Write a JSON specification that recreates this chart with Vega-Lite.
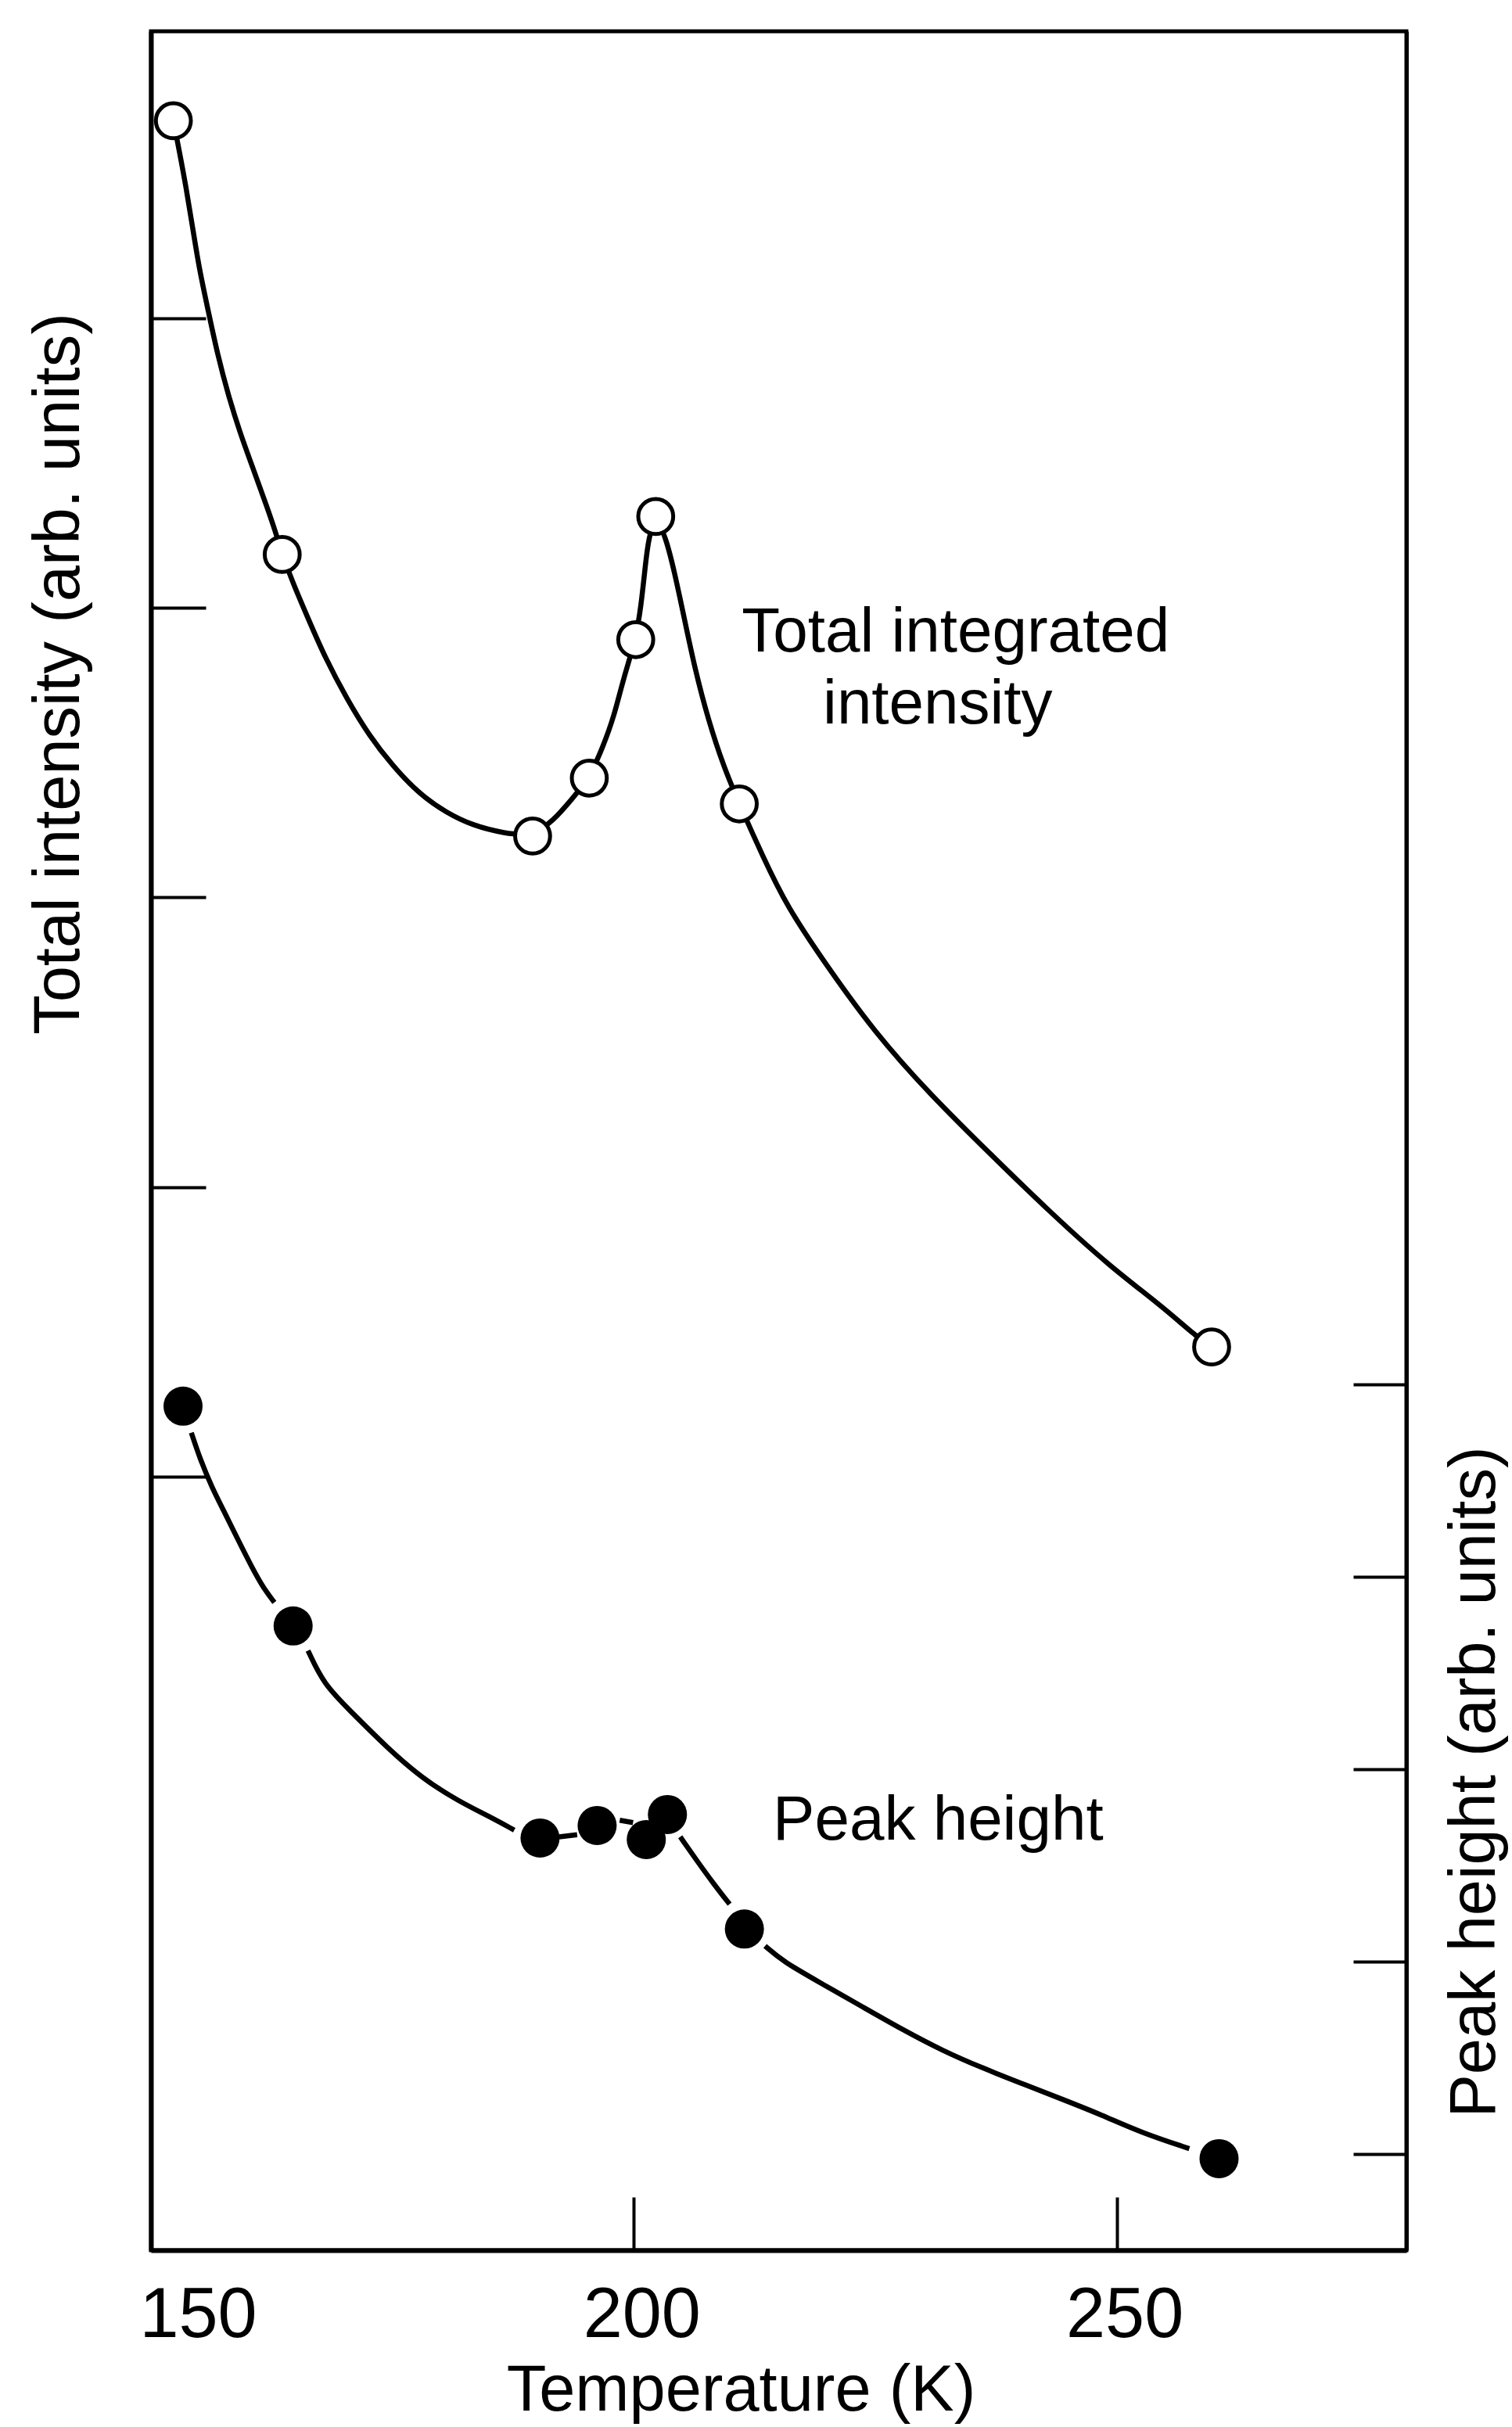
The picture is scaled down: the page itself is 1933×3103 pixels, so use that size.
{
  "$schema": "https://vega.github.io/schema/vega-lite/v6.json",
  "width": 1605,
  "height": 2837,
  "autosize": "none",
  "padding": {"left": 193, "top": 40, "right": 135, "bottom": 226},
  "background": "white",
  "config": {
    "view": {"stroke": "black", "strokeWidth": 5},
    "font": "Liberation Sans",
    "axis": {"grid": false, "domainColor": "black", "tickColor": "black", "labelColor": "black", "titleColor": "black", "labelFont": "Liberation Sans", "titleFont": "Liberation Sans", "titleFontWeight": "normal"}
  },
  "datasets": {
    "total_pts": [
      {"T": 152.32, "v": 7.681}, {"T": 163.59, "v": 6.184}, {"T": 189.52, "v": 5.212}, {"T": 195.39, "v": 5.412},
      {"T": 200.20, "v": 5.890}, {"T": 202.27, "v": 6.315}, {"T": 210.92, "v": 5.323}, {"T": 259.83, "v": 3.448}
    ],
    "total_curve": [
      {"T": 152.32, "v": 7.681}, {"T": 152.91, "v": 7.581}, {"T": 153.62, "v": 7.455}, {"T": 154.32, "v": 7.311},
      {"T": 155.02, "v": 7.166}, {"T": 155.95, "v": 7.022}, {"T": 156.88, "v": 6.876}, {"T": 158.03, "v": 6.731},
      {"T": 159.20, "v": 6.606}, {"T": 160.59, "v": 6.479}, {"T": 161.97, "v": 6.352}, {"T": 162.91, "v": 6.261},
      {"T": 163.59, "v": 6.184}, {"T": 164.77, "v": 6.080}, {"T": 166.17, "v": 5.971}, {"T": 168.02, "v": 5.828},
      {"T": 170.34, "v": 5.682}, {"T": 172.65, "v": 5.556}, {"T": 174.98, "v": 5.456}, {"T": 177.78, "v": 5.357},
      {"T": 180.56, "v": 5.293}, {"T": 183.33, "v": 5.248}, {"T": 186.60, "v": 5.221}, {"T": 189.52, "v": 5.212},
      {"T": 191.71, "v": 5.266}, {"T": 193.57, "v": 5.339}, {"T": 195.39, "v": 5.412}, {"T": 196.81, "v": 5.520},
      {"T": 197.98, "v": 5.628}, {"T": 198.91, "v": 5.755}, {"T": 200.20, "v": 5.890}, {"T": 200.76, "v": 6.009},
      {"T": 201.21, "v": 6.152}, {"T": 201.54, "v": 6.244}, {"T": 202.27, "v": 6.315}, {"T": 203.32, "v": 6.244},
      {"T": 204.25, "v": 6.117}, {"T": 205.18, "v": 5.971}, {"T": 206.31, "v": 5.791}, {"T": 207.73, "v": 5.610},
      {"T": 209.35, "v": 5.447}, {"T": 210.92, "v": 5.323}, {"T": 213.39, "v": 5.139}, {"T": 215.86, "v": 4.969},
      {"T": 219.58, "v": 4.783}, {"T": 224.92, "v": 4.534}, {"T": 230.74, "v": 4.318}, {"T": 236.89, "v": 4.115},
      {"T": 243.12, "v": 3.913}, {"T": 249.27, "v": 3.727}, {"T": 254.69, "v": 3.589}, {"T": 258.17, "v": 3.486},
      {"T": 259.83, "v": 3.448}
    ],
    "total_labels": [
      {"T": 233.33, "v": 5.849, "text": "Total integrated"},
      {"T": 231.47, "v": 5.601, "text": "intensity"}
    ],
    "peak_pts": [
      {"T": 153.32, "v": 4.886}, {"T": 164.72, "v": 3.744}, {"T": 190.29, "v": 2.642}, {"T": 196.20, "v": 2.707},
      {"T": 201.29, "v": 2.634}, {"T": 203.48, "v": 2.764}, {"T": 211.45, "v": 2.169}, {"T": 260.60, "v": 0.976}
    ],
    "peak_curve": [
      {"seg": "a", "T": 154.18, "v": 4.748}, {"seg": "a", "T": 155.11, "v": 4.608}, {"seg": "a", "T": 156.28, "v": 4.467},
      {"seg": "a", "T": 157.67, "v": 4.329}, {"seg": "a", "T": 159.06, "v": 4.187}, {"seg": "a", "T": 160.45, "v": 4.049},
      {"seg": "a", "T": 161.62, "v": 3.943}, {"seg": "a", "T": 162.78, "v": 3.866},
      {"seg": "b", "T": 166.26, "v": 3.616}, {"seg": "b", "T": 167.88, "v": 3.441}, {"seg": "b", "T": 170.67, "v": 3.301},
      {"seg": "b", "T": 174.39, "v": 3.114}, {"seg": "b", "T": 178.11, "v": 2.951}, {"seg": "b", "T": 181.82, "v": 2.834},
      {"seg": "b", "T": 185.07, "v": 2.753}, {"seg": "b", "T": 187.62, "v": 2.683},
      {"seg": "c", "T": 192.27, "v": 2.648}, {"seg": "c", "T": 194.13, "v": 2.659},
      {"seg": "d", "T": 198.54, "v": 2.734}, {"seg": "d", "T": 199.92, "v": 2.722},
      {"seg": "e", "T": 204.81, "v": 2.648}, {"seg": "e", "T": 206.43, "v": 2.531}, {"seg": "e", "T": 208.29, "v": 2.402},
      {"seg": "e", "T": 209.92, "v": 2.298},
      {"seg": "f", "T": 213.59, "v": 2.081}, {"seg": "f", "T": 215.45, "v": 2.000}, {"seg": "f", "T": 219.58, "v": 1.882},
      {"seg": "f", "T": 223.71, "v": 1.764}, {"seg": "f", "T": 227.83, "v": 1.646}, {"seg": "f", "T": 231.96, "v": 1.537},
      {"seg": "f", "T": 236.08, "v": 1.447}, {"seg": "f", "T": 240.21, "v": 1.366}, {"seg": "f", "T": 244.34, "v": 1.285},
      {"seg": "f", "T": 248.46, "v": 1.203}, {"seg": "f", "T": 252.59, "v": 1.110}, {"seg": "f", "T": 257.52, "v": 1.028}
    ],
    "peak_labels": [
      {"T": 231.51, "v": 2.634, "text": "Peak height"}
    ]
  },
  "encoding": {
    "x": {
      "field": "T", "type": "quantitative",
      "scale": {"domain": [150, 280], "nice": false, "zero": false},
      "axis": {
        "orient": "bottom", "title": "Temperature (K)", "values": [150, 200, 250], "format": "d",
        "tickSize": -68, "tickWidth": 4, "domainWidth": 6,
        "labelFontSize": 90, "labelPadding": 178, "labelBaseline": "alphabetic",
        "labelFlush": true, "labelFlushOffset": 25, "labelOffset": 10,
        "titleFontSize": 83, "titleX": 754, "titleY": 204, "titleBaseline": "alphabetic", "titleAlign": "center"
      }
    }
  },
  "layer": [
    {
      "encoding": {
        "y": {
          "field": "v", "type": "quantitative",
          "scale": {"domain": [0.33, 7.99], "nice": false, "zero": false},
          "axis": {
            "orient": "left", "title": "Total intensity (arb. units)", "values": [3, 4, 5, 6, 7], "labels": false,
            "tickSize": -70, "tickWidth": 4, "domainWidth": 6,
            "titleFontSize": 83, "titleAngle": 270, "titleX": -93, "titleY": 821, "titleBaseline": "alphabetic", "titleAlign": "center"
          }
        }
      },
      "layer": [
        {"data": {"name": "total_curve"}, "mark": {"type": "line", "interpolate": "basis", "color": "black", "strokeWidth": 6.5}, "encoding": {}},
        {"data": {"name": "total_pts"}, "mark": {"type": "point", "shape": "circle", "size": 2000, "filled": true, "fill": "white", "stroke": "black", "strokeWidth": 5, "opacity": 1}},
        {"data": {"name": "total_labels"}, "mark": {"type": "text", "fontSize": 80, "align": "center", "baseline": "alphabetic", "color": "black", "font": "Liberation Sans"}, "encoding": {"text": {"field": "text"}}}
      ]
    },
    {
      "encoding": {
        "y": {
          "field": "v", "type": "quantitative",
          "scale": {"domain": [0.5, 12.03], "nice": false, "zero": false},
          "axis": {
            "orient": "right", "title": "Peak height (arb. units)", "values": [1, 2, 3, 4, 5], "labels": false,
            "tickSize": -68, "tickWidth": 4, "domainWidth": 5,
            "titleFontSize": 83, "titleAngle": 270, "titleX": 112, "titleY": 2238, "titleBaseline": "alphabetic", "titleAlign": "center"
          }
        }
      },
      "layer": [
        {"data": {"name": "peak_curve"}, "mark": {"type": "line", "interpolate": "basis", "color": "black", "strokeWidth": 6.5}, "encoding": {"detail": {"field": "seg"}}},
        {"data": {"name": "peak_pts"}, "mark": {"type": "point", "shape": "circle", "size": 2500, "filled": true, "color": "black", "opacity": 1}},
        {"data": {"name": "peak_labels"}, "mark": {"type": "text", "fontSize": 80, "align": "center", "baseline": "alphabetic", "color": "black", "font": "Liberation Sans"}, "encoding": {"text": {"field": "text"}}}
      ]
    }
  ],
  "resolve": {"scale": {"y": "independent"}, "axis": {"y": "independent"}}
}
